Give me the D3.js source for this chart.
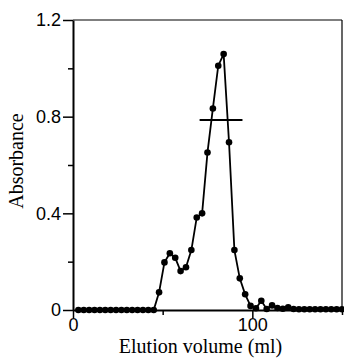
<!DOCTYPE html>
<html><head><meta charset="utf-8">
<script src="https://cdn.jsdelivr.net/npm/d3@7"></script>
<style>body{margin:0;background:#fff}</style>
</head><body>
<svg id="c" width="344" height="358"></svg>
<script>
const volumes = [3,6,9,12,15,18,21,24,27,30,33,36,39,42,45,48,51,54,57,60,63,66,69,72,75,78,81,84,87,90,93,96,99,102,105,108,111,114,117,120,123,126,129,132,135,138,141,144,147,150];
const absorbance = [0,0,0,0,0,0,0,0,0,0,0,0,0,0,0,0.073,0.197,0.235,0.216,0.161,0.177,0.248,0.383,0.40,0.652,0.834,1.011,1.059,0.694,0.248,0.131,0.065,0.017,0.007,0.038,0.004,0.019,0.008,0.005,0.011,0.004,0.003,0.003,0.003,0.003,0.003,0.003,0.003,0.003,0.003];
const xMajor = [0,100];
const xMinor = [50,150];
const yMajor = [0,0.4,0.8,1.2];
const yMinor = [0.2,0.6,1.0];
const barY = 0.786, barX = [70.6, 94.5];

const svg = d3.select("#c");
const L=73, R=342, T=20, B=310;
const x = d3.scaleLinear().domain([0,150]).range([L,R]);
const y = d3.scaleLinear().domain([0,1.2]).range([B,T]);

// frame
svg.append("line").attr("x1",L).attr("x2",R).attr("y1",T).attr("y2",T).attr("stroke","#000").attr("stroke-width",1.2);
svg.append("line").attr("x1",R).attr("x2",R).attr("y1",T).attr("y2",B).attr("stroke","#000").attr("stroke-width",1.2);

// y axis
const ya = svg.append("g").attr("transform",`translate(${L},0)`)
  .call(d3.axisLeft(y).tickValues(yMajor).tickSize(10).tickSizeOuter(0).tickFormat(d=>d===0?"0":d3.format(".1f")(d)));
ya.select(".domain").attr("stroke-width",2);
ya.selectAll(".tick line").attr("stroke-width",1.5);
ya.selectAll("text").attr("font-family","Liberation Sans, Arial, sans-serif").attr("font-size",18).attr("fill","#000").attr("dx",1);
svg.append("g").attr("transform",`translate(${L},0)`)
  .call(d3.axisLeft(y).tickValues(yMinor).tickSize(5).tickSizeOuter(0).tickFormat(""))
  .call(g=>g.select(".domain").remove())
  .selectAll(".tick line").attr("stroke-width",1.5);

// x axis
const xa = svg.append("g").attr("transform",`translate(0,${B})`)
  .call(d3.axisBottom(x).tickValues(xMajor).tickSize(8).tickSizeOuter(0).tickFormat(d3.format("d")));
xa.select(".domain").attr("stroke-width",2);
xa.selectAll(".tick line").attr("stroke-width",1.5);
xa.selectAll("text").attr("font-family","Liberation Sans, Arial, sans-serif").attr("font-size",18).attr("fill","#000").attr("dy","0.55em");
svg.append("g").attr("transform",`translate(0,${B})`)
  .call(d3.axisBottom(x).tickValues(xMinor).tickSize(5).tickSizeOuter(0).tickFormat(""))
  .call(g=>g.select(".domain").remove())
  .selectAll(".tick line").attr("stroke-width",1.5);

// labels
svg.append("text").attr("x",(L+R)/2-7).attr("y",353).attr("text-anchor","middle")
  .attr("font-family","Liberation Serif, Times New Roman, serif").attr("font-size",20).text("Elution volume (ml)");
svg.append("text").attr("transform",`translate(23,${(T+B)/2-4}) rotate(-90)`).attr("text-anchor","middle")
  .attr("font-family","Liberation Serif, Times New Roman, serif").attr("font-size",20).text("Absorbance");

// data
const pts = volumes.map((v,i)=>[v,absorbance[i]]);
svg.append("path").datum(pts).attr("fill","none").attr("stroke","#000").attr("stroke-width",1.8)
  .attr("d",d3.line().x(d=>x(d[0])).y(d=>y(d[1])));
svg.selectAll("circle").data(pts).join("circle")
  .attr("cx",d=>x(d[0])).attr("cy",d=>y(d[1])).attr("r",3.3).attr("fill","#000");

// horizontal bar
svg.append("line").attr("x1",x(barX[0])).attr("x2",x(barX[1])).attr("y1",y(barY)).attr("y2",y(barY))
  .attr("stroke","#000").attr("stroke-width",2);
</script>
</body></html>
